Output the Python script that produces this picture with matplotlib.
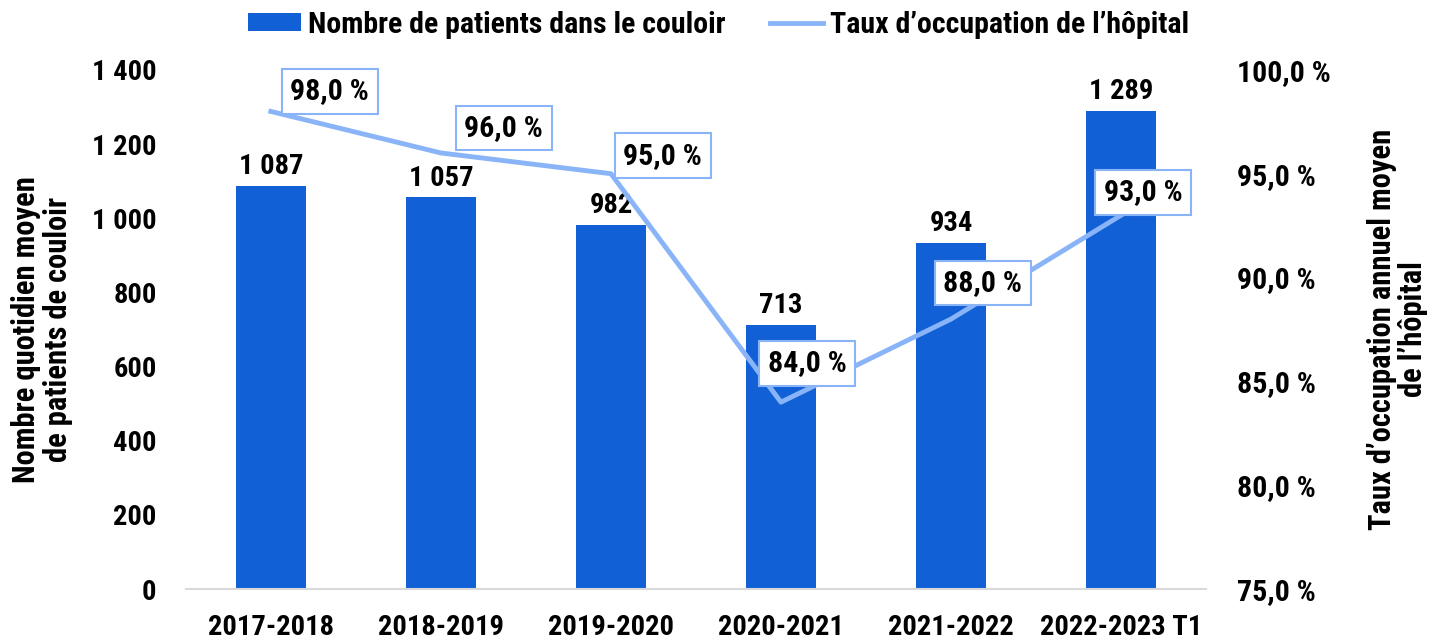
import matplotlib
matplotlib.use('Agg')
import numpy as np
from matplotlib import pyplot as plt

periodes = ['2017-2018', '2018-2019', '2019-2020', '2020-2021', '2021-2022', '2022-2023 T1']
patients_couloir = [1087, 1057, 982, 713, 934, 1289]
taux_occupation = [98.0, 96.0, 95.0, 84.0, 88.0, 93.0]

BAR_COLOR = '#1160D6'
LINE_COLOR = '#8AB4F8'

plt.rcParams['font.family'] = ['Roboto Condensed', 'DejaVu Sans']
plt.rcParams['font.weight'] = 'bold'
plt.rcParams['font.size'] = 20


def fr_int(v):
    return f'{v:,.0f}'.replace(',', ' ')


def fr_pct(v):
    return f'{v:.1f} %'.replace('.', ',')


fig = plt.figure(figsize=(14.29, 6.41), dpi=100)
ax = fig.add_axes([0.130, 0.081, 0.714, 0.810])
ax2 = ax.twinx()

x = np.arange(len(periodes))
bars = ax.bar(x, patients_couloir, width=0.41, color=BAR_COLOR,
              label='Nombre de patients dans le couloir', zorder=2)
ax.bar_label(bars, labels=[fr_int(v) for v in patients_couloir],
             padding=4, fontsize=20.5, fontweight='bold')

ax.set_xlim(-0.5, len(periodes) - 0.5)
ax.set_ylim(0, 1400)
ax.set_yticks(np.arange(0, 1401, 200))
ax.set_yticklabels([fr_int(v) for v in np.arange(0, 1401, 200)])
ax.set_xticks(x)
ax.set_xticklabels(periodes, fontweight='bold')
ax.tick_params(axis='both', length=0, labelsize=20.5)
ax.tick_params(axis='y', pad=21)
ax.tick_params(axis='x', pad=18)
for s in ['top', 'right', 'left']:
    ax.spines[s].set_visible(False)
ax.spines['bottom'].set_color('#d9d9d9')
ax.spines['bottom'].set_linewidth(1.5)
ax.set_ylabel('Nombre quotidien moyen\nde patients de couloir', fontsize=22,
              fontweight='bold', labelpad=14, linespacing=1.05)

line, = ax2.plot(x, taux_occupation, color=LINE_COLOR, lw=3.5,
                 label="Taux d’occupation de l’hôpital", zorder=3)
ax2.set_ylim(75, 100)
ax2.set_yticks(np.arange(75, 100.1, 5))
ax2.set_yticklabels([fr_pct(v) for v in np.arange(75, 100.1, 5)])
ax2.tick_params(axis='y', length=0, labelsize=21.5, pad=22)
for s in ['top', 'right', 'left', 'bottom']:
    ax2.spines[s].set_visible(False)
ax2.set_ylabel("Taux d’occupation annuel moyen\nde l’hôpital", fontsize=22,
               fontweight='bold', labelpad=26, rotation=90, linespacing=1.05)

# label offsets in pixels (dx, dy)
offsets = [(59, 20), (63, 25), (52, 18), (26, 39), (32, 36), (22, 23)]
for xi, v, (dx, dy) in zip(x, taux_occupation, offsets):
    ax2.annotate(fr_pct(v), (xi, v), xytext=(dx * 0.72, dy * 0.72),
                 textcoords='offset points', ha='center', va='center',
                 fontsize=21.5, fontweight='bold', zorder=4,
                 bbox=dict(boxstyle='square,pad=0.28', fc='white',
                           ec=LINE_COLOR, lw=1.5))

fig.legend(handles=[bars, line], loc='upper center', bbox_to_anchor=(0.503, 1.025),
           ncol=2, frameon=False, fontsize=21.5, handlelength=1.75,
           handleheight=0.55, columnspacing=1.5, handletextpad=0.25)

fig.savefig('out.png', dpi=100)
